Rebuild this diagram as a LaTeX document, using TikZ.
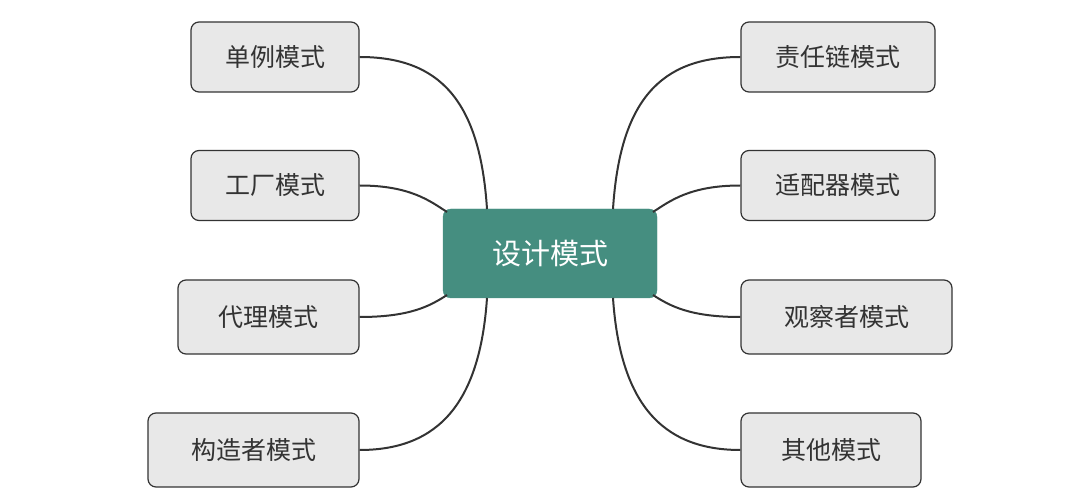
\documentclass[tikz,border=0pt]{standalone}
\usepackage{fontspec}
\newfontfamily\cjk{Noto Sans CJK SC}
\definecolor{teal1}{HTML}{458E80}
\definecolor{boxf}{HTML}{E8E8E8}
\definecolor{edge}{HTML}{333333}
\begin{document}
\begin{tikzpicture}[x=1pt,y=1pt,
 leaf/.style={draw=edge,line width=1.2pt,fill=boxf,rounded corners=8pt,inner sep=0pt,font=\cjk\fontsize{25}{25}\selectfont,text=edge,minimum height=70pt},
 conn/.style={draw=edge,line width=2pt}]
\useasboundingbox (0,0) rectangle (1080,501);
\node[fill=teal1,draw=teal1,rounded corners=8pt,minimum width=214pt,minimum height=89pt,text=white,font=\cjk\fontsize{29}{29}\selectfont] (c) at (550,247.5) {设计模式};
\node[leaf,minimum width=168pt] (l1) at (275,444) {单例模式};
\node[leaf,minimum width=168pt] (l2) at (275,315.5) {工厂模式};
\node[leaf,minimum width=181pt,minimum height=74pt] (l3) at (268.5,184) {代理模式};
\node[leaf,minimum width=211pt,minimum height=74pt] (l4) at (253.5,51) {构造者模式};
\node[leaf,minimum width=194pt] (r1) at (838,444) {责任链模式};
\node[leaf,minimum width=194pt] (r2) at (838,315.5) {适配器模式};
\node[leaf,minimum width=211pt,minimum height=74pt] (r3) at (846.5,184) {观察者模式};
\node[leaf,minimum width=180pt,minimum height=74pt] (r4) at (831,51) {其他模式};
\coordinate (ct1) at (487,292); \coordinate (ct2) at (447,289);
\coordinate (ct3) at (447,206); \coordinate (ct4) at (487,203);
\coordinate (cr1) at (613,292); \coordinate (cr2) at (653,289);
\coordinate (cr3) at (653,206); \coordinate (cr4) at (613,203);
\draw[conn] (l1.east) .. controls (440,444) and (480,400) .. (ct1);
\draw[conn] (l2.east) .. controls (410,315.5) and (430,300) .. (ct2);
\draw[conn] (l3.east) .. controls (410,184) and (430,195) .. (ct3);
\draw[conn] (l4.east) .. controls (440,51) and (480,100) .. (ct4);
\draw[conn] (r1.west) .. controls (660,444) and (620,400) .. (cr1);
\draw[conn] (r2.west) .. controls (690,315.5) and (670,300) .. (cr2);
\draw[conn] (r3.west) .. controls (690,184) and (670,195) .. (cr3);
\draw[conn] (r4.west) .. controls (660,51) and (620,100) .. (cr4);
\end{tikzpicture}
\end{document}
